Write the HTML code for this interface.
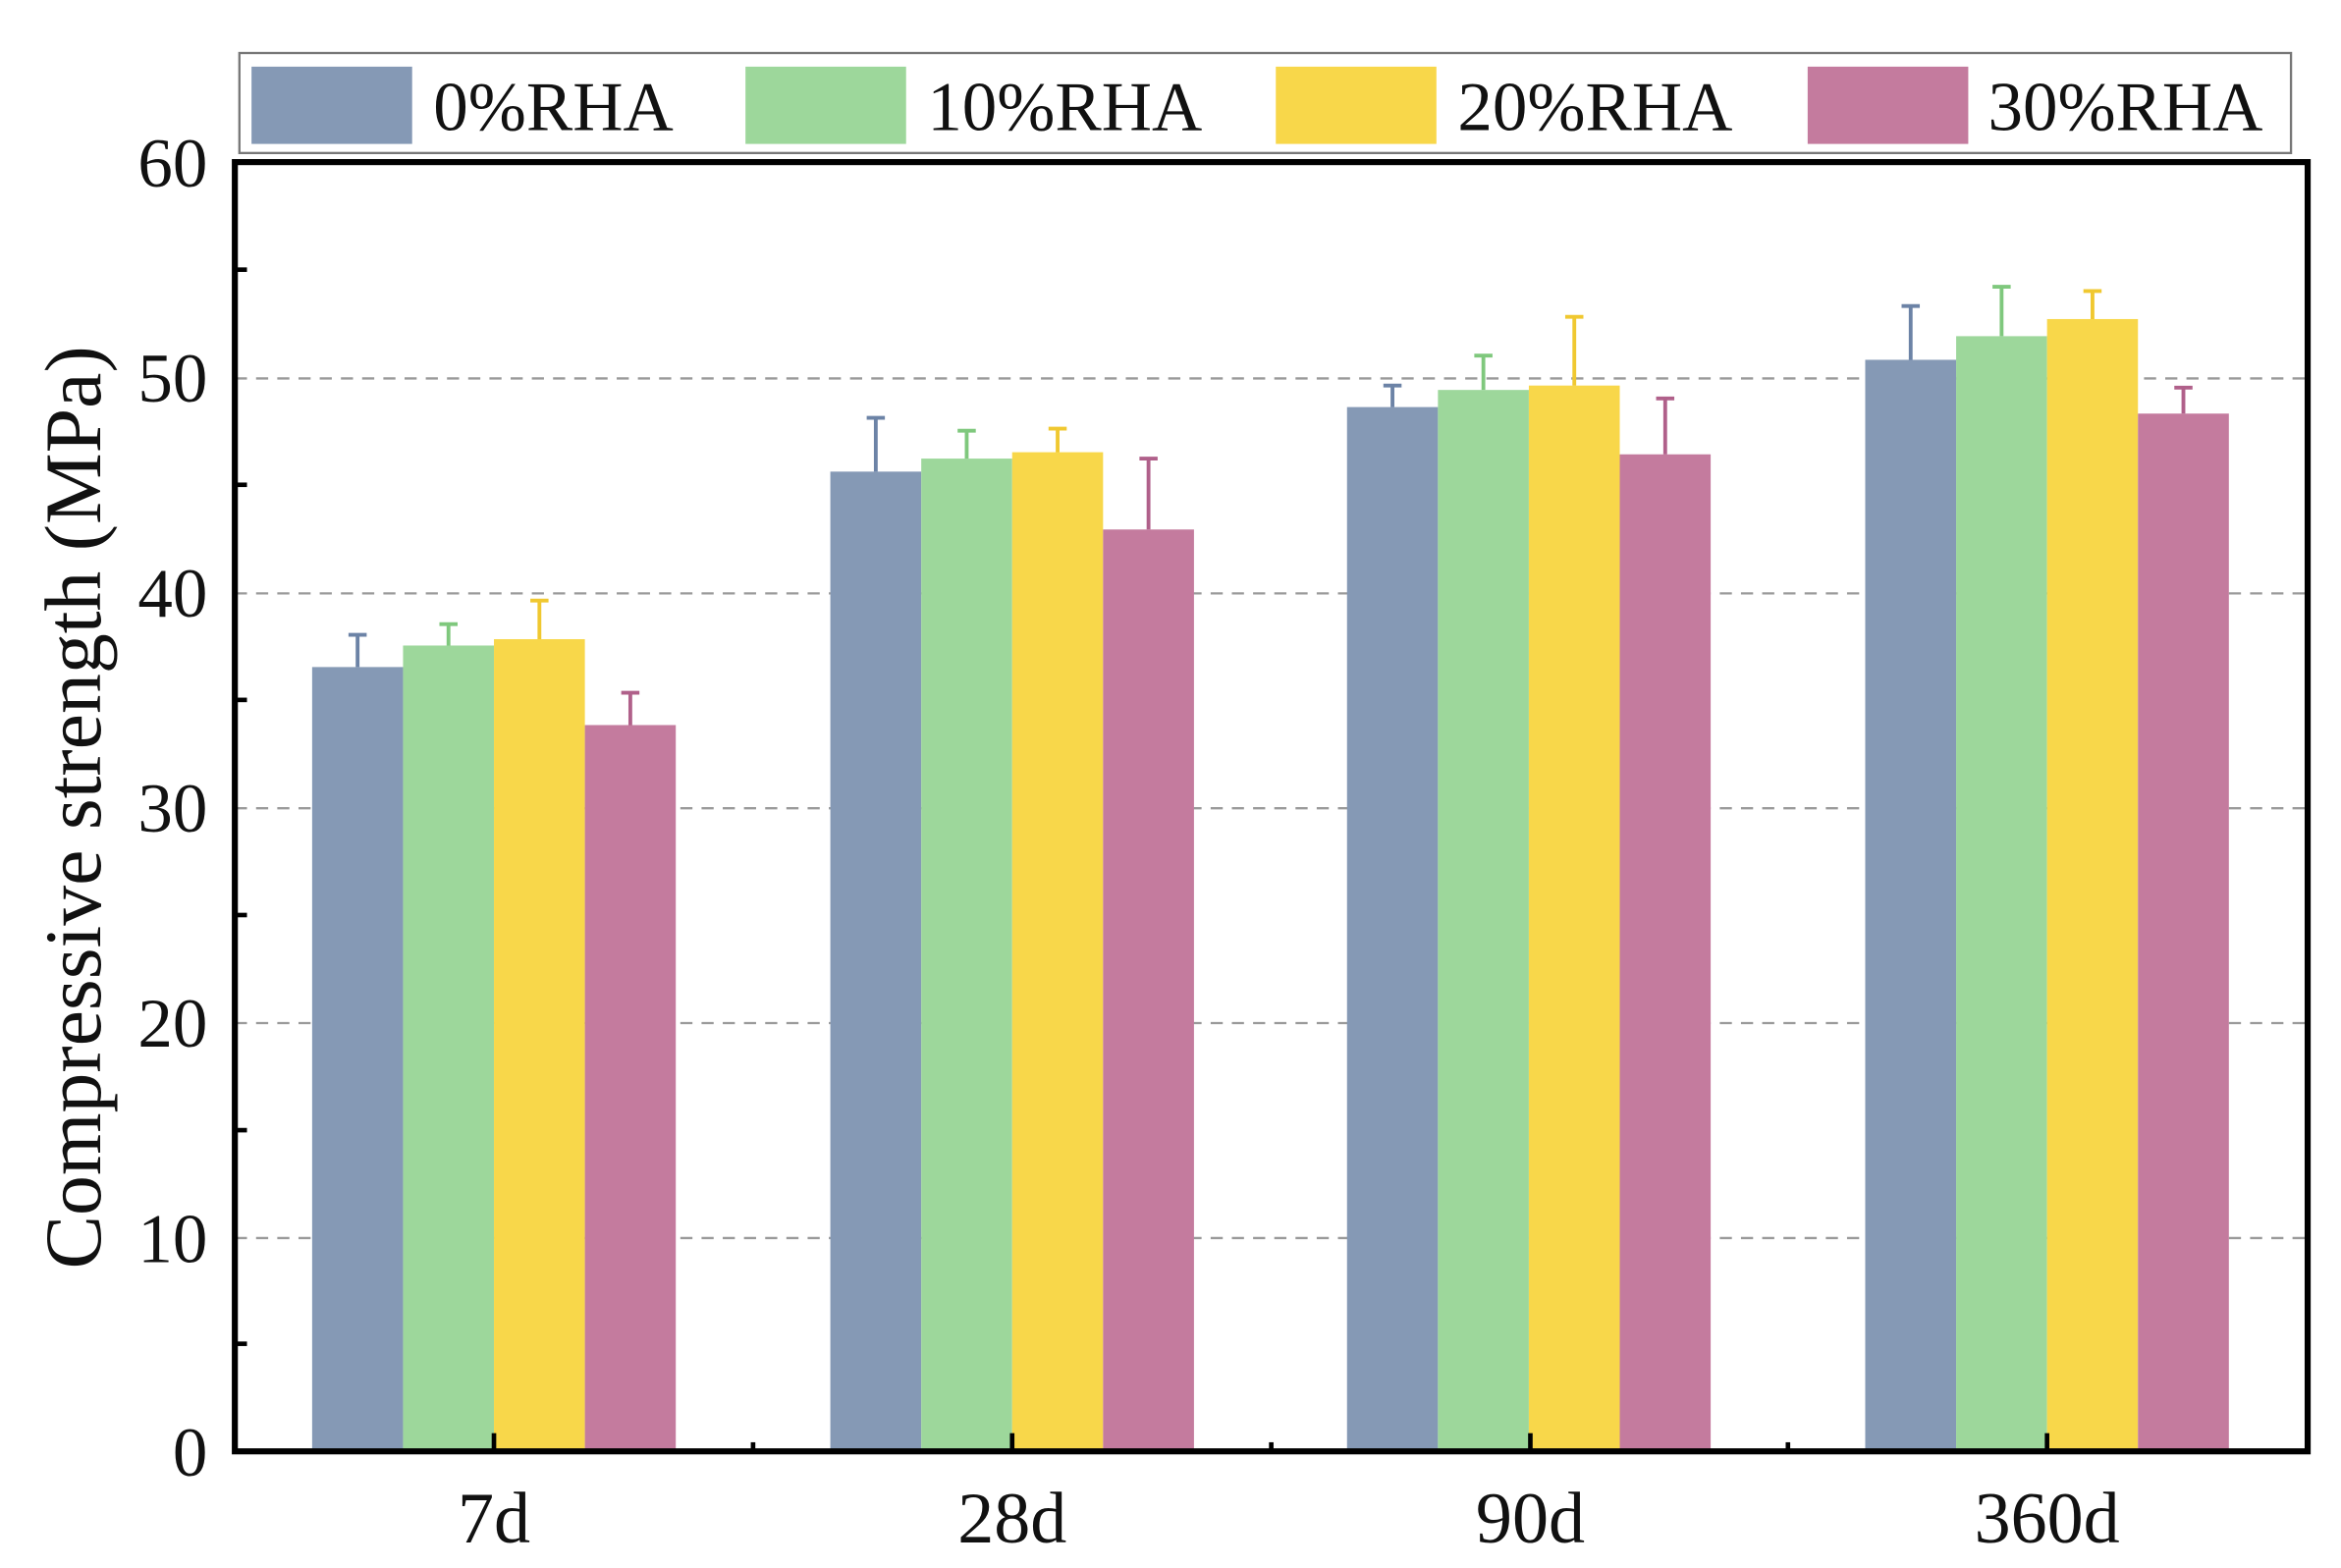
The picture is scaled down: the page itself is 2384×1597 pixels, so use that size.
<!DOCTYPE html>
<html><head><style>html,body{margin:0;padding:0;background:#fff}svg{display:block}</style></head>
<body>
<svg width="2384" height="1597" viewBox="0 0 1545 1035" preserveAspectRatio="none" xmlns="http://www.w3.org/2000/svg" font-family="Liberation Serif, serif">
<rect width="1545" height="1035" fill="#fff"/>
<g stroke="#9a9a9a" stroke-width="1.5" stroke-dasharray="8,6">
<line x1="155" x2="1523" y1="249.8" y2="249.8"/>
<line x1="155" x2="1523" y1="391.7" y2="391.7"/>
<line x1="155" x2="1523" y1="533.5" y2="533.5"/>
<line x1="155" x2="1523" y1="675.3" y2="675.3"/>
<line x1="155" x2="1523" y1="817.2" y2="817.2"/>
</g>
<g>
<rect x="206" y="440.3" width="60" height="517.7" fill="#8599b5"/>
<rect x="266" y="426.1" width="60" height="531.9" fill="#9dd79b"/>
<rect x="326" y="421.9" width="60" height="536.1" fill="#f8d74a"/>
<rect x="386" y="478.6" width="60" height="479.4" fill="#c47b9e"/>
<rect x="548" y="311.3" width="60" height="646.7" fill="#8599b5"/>
<rect x="608" y="302.7" width="60" height="655.3" fill="#9dd79b"/>
<rect x="668" y="298.5" width="60" height="659.5" fill="#f8d74a"/>
<rect x="728" y="349.5" width="60" height="608.5" fill="#c47b9e"/>
<rect x="889" y="268.7" width="60" height="689.3" fill="#8599b5"/>
<rect x="949" y="257.4" width="60" height="700.6" fill="#9dd79b"/>
<rect x="1009" y="254.5" width="60" height="703.5" fill="#f8d74a"/>
<rect x="1069" y="299.9" width="60" height="658.1" fill="#c47b9e"/>
<rect x="1231" y="237.5" width="60" height="720.5" fill="#8599b5"/>
<rect x="1291" y="221.9" width="60" height="736.1" fill="#9dd79b"/>
<rect x="1351" y="210.6" width="60" height="747.4" fill="#f8d74a"/>
<rect x="1411" y="273.0" width="60" height="685.0" fill="#c47b9e"/>
</g>
<g stroke-width="2.5" fill="none">
<path stroke="#6c83a6" d="M236 440.3V419M230 419H242M578 311.3V275.8M572 275.8H584M919 268.7V254.5M913 254.5H925M1261 237.5V202M1255 202H1267"/>
<path stroke="#7fc87d" d="M296 426.1V412M290 412H302M638 302.7V284.3M632 284.3H644M979 257.4V234.7M973 234.7H985M1321 221.9V189.3M1315 189.3H1327"/>
<path stroke="#f0c830" d="M356 421.9V396.4M350 396.4H362M698 298.5V282.9M692 282.9H704M1039 254.5V209.1M1033 209.1H1045M1381 210.6V192.1M1375 192.1H1387"/>
<path stroke="#b0608a" d="M416 478.6V457.3M410 457.3H422M758 349.5V302.7M752 302.7H764M1099 299.9V263M1093 263H1105M1441 273V255.9M1435 255.9H1447"/>
</g>
<rect x="155" y="107" width="1368" height="851" fill="none" stroke="#000" stroke-width="4"/>
<g stroke="#000" stroke-width="3">
<line x1="155" x2="163" y1="178" y2="178"/><line x1="155" x2="163" y1="320" y2="320"/><line x1="155" x2="163" y1="462" y2="462"/><line x1="155" x2="163" y1="604" y2="604"/><line x1="155" x2="163" y1="746" y2="746"/><line x1="155" x2="163" y1="887" y2="887"/>
<line x1="326" x2="326" y1="958" y2="946"/><line x1="668" x2="668" y1="958" y2="946"/><line x1="1010" x2="1010" y1="958" y2="946"/><line x1="1351" x2="1351" y1="958" y2="946"/>
<line x1="497" x2="497" y1="958" y2="952"/><line x1="839" x2="839" y1="958" y2="952"/><line x1="1180" x2="1180" y1="958" y2="952"/>
</g>
<g font-size="46" text-anchor="end" fill="#111">
<text x="137" y="974">0</text><text x="137" y="833">10</text><text x="137" y="691">20</text><text x="137" y="549">30</text><text x="137" y="407">40</text><text x="137" y="265">50</text><text x="137" y="123">60</text>
</g>
<g font-size="48" text-anchor="middle" fill="#111">
<text x="326" y="1018">7d</text><text x="668" y="1018">28d</text><text x="1010" y="1018">90d</text><text x="1351" y="1018">360d</text>
</g>
<text transform="translate(66,533) rotate(-90)" font-size="53" text-anchor="middle" fill="#111">Compressive strength (MPa)</text>
<rect x="158" y="35" width="1354" height="66" fill="#fff" stroke="#777" stroke-width="1.5"/>
<rect x="166" y="44" width="106" height="51" fill="#8599b5"/>
<rect x="492" y="44" width="106" height="51" fill="#9dd79b"/>
<rect x="842" y="44" width="106" height="51" fill="#f8d74a"/>
<rect x="1193" y="44" width="106" height="51" fill="#c47b9e"/>
<g font-size="46" fill="#111">
<text x="286" y="86">0%RHA</text><text x="612" y="86">10%RHA</text><text x="962" y="86">20%RHA</text><text x="1312" y="86">30%RHA</text>
</g>
</svg>
</body></html>
